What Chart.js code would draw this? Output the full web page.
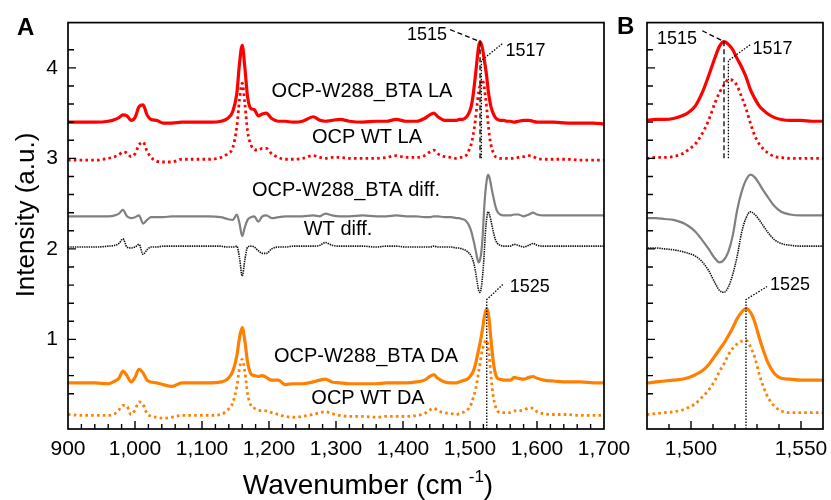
<!DOCTYPE html>
<html>
<head>
<meta charset="utf-8">
<script src="https://cdn.jsdelivr.net/npm/chart.js@4.4.1/dist/chart.umd.min.js"></script>
<style>
  html, body { margin: 0; padding: 0; background: #fff; }
  #wrap { position: relative; width: 831px; height: 500px; }
  #wrap canvas { position: absolute; left: 0; top: 0; }
</style>
</head>
<body>
<div id="wrap">
  <canvas id="chartA" width="831" height="500"></canvas>
  <canvas id="chartB" width="831" height="500"></canvas>
</div>
<script>
// Raman shift (cm-1), shared by every trace
const wavenumber = [
  900, 920, 940, 960, 970, 976, 982, 988, 994, 1000,
  1006, 1012, 1018, 1024, 1032, 1042, 1055, 1070, 1090, 1110,
  1128, 1138, 1146, 1152, 1156, 1160, 1164, 1168, 1173, 1178,
  1184, 1190, 1196, 1204, 1214, 1224, 1236, 1250, 1266, 1276,
  1284, 1294, 1306, 1320, 1340, 1360, 1375, 1390, 1405, 1420,
  1432, 1440, 1446, 1452, 1462, 1472,
  1480, 1484, 1488, 1492, 1496, 1499, 1502, 1505, 1508, 1511,
  1513, 1515, 1517, 1519, 1521, 1523, 1525, 1527, 1529, 1531,
  1533, 1535, 1538, 1541, 1545, 1550, 1555, 1560,
  1566, 1572, 1580, 1588, 1594, 1600, 1610, 1625, 1645, 1665,
  1685, 1700
];

const btaLA = [
  3.40, 3.40, 3.40, 3.41, 3.43, 3.45, 3.48, 3.47, 3.42, 3.45,
  3.57, 3.59, 3.48, 3.43, 3.42, 3.39, 3.39, 3.40, 3.40, 3.40,
  3.41, 3.44, 3.52, 3.72, 4.05, 4.25, 4.00, 3.68, 3.55, 3.54,
  3.47, 3.49, 3.50, 3.44, 3.41, 3.41, 3.40, 3.41, 3.46, 3.42,
  3.41, 3.42, 3.43, 3.41, 3.40, 3.41, 3.41, 3.43, 3.41, 3.41,
  3.44, 3.48, 3.50, 3.46, 3.42, 3.42,
  3.42, 3.43, 3.43, 3.44, 3.47, 3.51, 3.58, 3.72, 3.91, 4.12,
  4.24, 4.29, 4.26, 4.20, 4.10, 4.01, 3.90, 3.76, 3.66, 3.58,
  3.53, 3.49, 3.45, 3.43, 3.42, 3.42, 3.41, 3.41,
  3.40, 3.41, 3.42, 3.42, 3.41, 3.40, 3.40, 3.40, 3.39, 3.39,
  3.39, 3.38
];

const wtLA = [
  2.98, 2.98, 2.98, 3.00, 3.02, 3.04, 3.07, 3.06, 3.02, 3.05,
  3.15, 3.18, 3.08, 3.01, 2.97, 2.96, 2.96, 2.99, 2.99, 2.99,
  3.01, 3.05, 3.12, 3.35, 3.65, 3.83, 3.60, 3.30, 3.15, 3.10,
  3.09, 3.11, 3.11, 3.05, 3.01, 2.99, 2.99, 3.00, 3.03, 3.01,
  3.00, 3.01, 3.01, 3.00, 3.00, 3.00, 3.01, 3.03, 3.01, 3.01,
  3.03, 3.07, 3.09, 3.05, 3.02, 3.01,
  3.00, 3.01, 3.01, 3.02, 3.05, 3.10, 3.16, 3.27, 3.42, 3.62,
  3.73, 3.81, 3.87, 3.86, 3.80, 3.68, 3.55, 3.39, 3.25, 3.16,
  3.10, 3.06, 3.02, 3.01, 3.00, 3.00, 3.00, 3.00,
  3.00, 3.01, 3.02, 3.03, 3.02, 3.00, 2.99, 2.99, 2.99, 2.98,
  2.98, 2.98
];

const btaDiff = [
  2.36, 2.36, 2.36, 2.36, 2.37, 2.39, 2.43, 2.36, 2.34, 2.35,
  2.37, 2.28, 2.32, 2.35, 2.35, 2.35, 2.36, 2.36, 2.36, 2.36,
  2.35, 2.33, 2.32, 2.38, 2.28, 2.14, 2.24, 2.32, 2.35, 2.36,
  2.30, 2.36, 2.37, 2.34, 2.35, 2.36, 2.36, 2.36, 2.37, 2.36,
  2.39, 2.37, 2.36, 2.36, 2.37, 2.36, 2.36, 2.37, 2.36, 2.36,
  2.35, 2.35, 2.36, 2.36, 2.35, 2.35,
  2.34, 2.34, 2.33, 2.32, 2.29, 2.25, 2.19, 2.10, 2.00, 1.89,
  1.85, 1.88, 1.97, 2.15, 2.43, 2.63, 2.76, 2.82, 2.79, 2.72,
  2.64, 2.57, 2.47, 2.41, 2.38, 2.37, 2.37, 2.37,
  2.38, 2.38, 2.36, 2.38, 2.40, 2.38, 2.37, 2.37, 2.37, 2.37,
  2.37, 2.37
];

const wtDiff = [
  2.02, 2.02, 2.02, 2.03, 2.04, 2.06, 2.11, 2.02, 2.01, 2.02,
  2.05, 1.94, 1.99, 2.02, 2.02, 2.03, 2.03, 2.03, 2.03, 2.03,
  2.03, 2.02, 2.02, 2.03, 1.90, 1.70, 1.88, 2.02, 2.03, 2.02,
  1.98, 1.95, 1.95, 2.00, 2.02, 2.02, 2.03, 2.03, 2.03, 2.04,
  2.07, 2.04, 2.03, 2.03, 2.03, 2.02, 2.03, 2.03, 2.02, 2.02,
  2.02, 2.02, 2.03, 2.02, 2.02, 2.02,
  2.01, 2.01, 2.00, 1.99, 1.97, 1.95, 1.92, 1.86, 1.76, 1.62,
  1.54, 1.52, 1.58, 1.72, 1.92, 2.18, 2.34, 2.41, 2.38, 2.32,
  2.25, 2.18, 2.10, 2.06, 2.04, 2.03, 2.03, 2.03,
  2.05, 2.04, 2.02, 2.04, 2.06, 2.04, 2.03, 2.03, 2.03, 2.03,
  2.03, 2.03
];

const btaDA = [
  0.52, 0.52, 0.52, 0.51, 0.54, 0.57, 0.65, 0.60, 0.53, 0.58,
  0.67, 0.63, 0.55, 0.53, 0.52, 0.50, 0.48, 0.52, 0.52, 0.52,
  0.53, 0.56, 0.65, 0.82, 1.02, 1.13, 0.98, 0.75, 0.62, 0.60,
  0.59, 0.60, 0.58, 0.55, 0.55, 0.50, 0.51, 0.51, 0.53, 0.55,
  0.56, 0.53, 0.52, 0.51, 0.51, 0.51, 0.52, 0.52, 0.52, 0.53,
  0.55, 0.59, 0.61, 0.57, 0.53, 0.52,
  0.52, 0.53, 0.54, 0.55, 0.56, 0.58, 0.61, 0.65, 0.72, 0.82,
  0.89, 0.96, 1.04, 1.13, 1.23, 1.30, 1.34, 1.30, 1.19, 1.02,
  0.87, 0.74, 0.62, 0.57, 0.56, 0.55, 0.55, 0.55,
  0.58, 0.57, 0.56, 0.58, 0.59, 0.57, 0.55, 0.54, 0.53, 0.53,
  0.52, 0.52
];

const wtDA = [
  0.17, 0.16, 0.16, 0.16, 0.18, 0.22, 0.27, 0.26, 0.17, 0.22,
  0.31, 0.28, 0.18, 0.15, 0.14, 0.13, 0.14, 0.16, 0.16, 0.16,
  0.17, 0.22, 0.30, 0.48, 0.68, 0.78, 0.64, 0.40, 0.27, 0.24,
  0.22, 0.21, 0.21, 0.19, 0.17, 0.15, 0.14, 0.15, 0.17, 0.19,
  0.20, 0.18, 0.16, 0.15, 0.15, 0.14, 0.15, 0.15, 0.15, 0.16,
  0.18, 0.22, 0.24, 0.21, 0.19, 0.18,
  0.17, 0.18, 0.19, 0.20, 0.22, 0.25, 0.29, 0.36, 0.44, 0.55,
  0.65, 0.73, 0.83, 0.90, 0.95, 0.98, 0.99, 0.92, 0.80, 0.62,
  0.47, 0.36, 0.26, 0.21, 0.19, 0.19, 0.19, 0.19,
  0.21, 0.21, 0.22, 0.24, 0.24, 0.20, 0.18, 0.17, 0.17, 0.16,
  0.16, 0.16
];

const seriesNames = ['OCP-W288_BTA LA', 'OCP WT LA', 'OCP-W288_BTA diff.', 'WT diff.', 'OCP-W288_BTA DA', 'OCP WT DA'];
const xLabelsA = [900, 1000, 1100, 1200, 1300, 1400, 1500, 1600, 1700];
const xLabelsB = [1500, 1550];
const yLabels = [1, 2, 3, 4];
// marked band positions and where their guide lines start/stop (intensity)
const peakMarks = [1515, 1517, 1525];
const markTop = [4.29, 4.08, 1.44];
const markBottom = [3.0, 3.0, null];

const FONT = '"Liberation Sans", Arial, sans-serif';
Chart.defaults.font.family = FONT;
Chart.defaults.color = '#000';

const styles = [
  { borderColor: '#ff0000', borderWidth: 3.2 },
  { borderColor: '#ff0000', borderWidth: 2.8, borderDash: [2.6, 3.2] },
  { borderColor: '#808080', borderWidth: 2.2 },
  { borderColor: '#111111', borderWidth: 1.6, borderDash: [1.4, 0.9] },
  { borderColor: '#ff8000', borderWidth: 3.2 },
  { borderColor: '#ff8000', borderWidth: 2.8, borderDash: [2.6, 3.2] }
];
const seriesData = [btaLA, wtLA, btaDiff, wtDiff, btaDA, wtDA];

function makeDatasets() {
  return seriesData.map((vals, i) => Object.assign({
    label: seriesNames[i],
    data: wavenumber.map((w, j) => ({ x: w, y: vals[j] })),
    pointRadius: 0,
    fill: false,
    cubicInterpolationMode: 'monotone'
  }, styles[i]));
}

const deco = {
  id: 'deco',
  afterDraw(chart, args, o) {
    const ctx = chart.ctx, a = chart.chartArea;
    const xs = chart.scales.x, ys = chart.scales.y;
    ctx.save();
    ctx.strokeStyle = '#000';
    ctx.fillStyle = '#000';

    // inward ticks
    ctx.lineWidth = 1.4;
    ctx.beginPath();
    xs.ticks.forEach(t => {
      if (t.value <= xs.min || t.value >= xs.max) return;
      const px = xs.getPixelForValue(t.value);
      const len = o.xLabels.includes(t.value) ? 8 : 5;
      ctx.moveTo(px, a.bottom); ctx.lineTo(px, a.bottom - len);
    });
    ys.ticks.forEach(t => {
      const v = Math.round(t.value * 5) / 5;
      if (Math.abs(v - t.value) > 1e-6 || v <= ys.min || v >= ys.max) return;
      const py = ys.getPixelForValue(v);
      const len = yLabels.includes(v) ? 8 : 6;
      ctx.moveTo(a.left, py); ctx.lineTo(a.left + len, py);
    });
    ctx.stroke();

    // frame
    ctx.lineWidth = 1.7;
    ctx.strokeRect(a.left, a.top, a.right - a.left, a.bottom - a.top);

    // band guide lines
    peakMarks.forEach((wn, i) => {
      const m = o.marks[i];
      const px = xs.getPixelForValue(wn);
      const pTop = ys.getPixelForValue(markTop[i]);
      const pBot = markBottom[i] == null ? a.bottom : ys.getPixelForValue(markBottom[i]);
      ctx.lineWidth = 1.3;
      ctx.setLineDash(m.dash);
      ctx.beginPath();
      ctx.moveTo(px, pBot); ctx.lineTo(px, pTop); ctx.lineTo(px + m.dx, pTop + m.dy);
      ctx.stroke();
      ctx.setLineDash([]);
      ctx.font = '18px ' + FONT;
      ctx.textAlign = m.dx < 0 ? 'right' : 'left';
      ctx.textBaseline = 'middle';
      ctx.fillText(String(wn), px + m.dx + m.tx, pTop + m.dy + m.ty);
    });

    // free texts
    (o.texts || []).forEach(t => {
      ctx.font = t.font;
      ctx.textAlign = t.align || 'center';
      ctx.textBaseline = t.base || 'middle';
      if (t.rot) {
        ctx.save(); ctx.translate(t.x, t.y); ctx.rotate(t.rot);
        ctx.fillText(t.text, 0, 0); ctx.restore();
      } else {
        ctx.fillText(t.text, t.x, t.y);
      }
    });

    // x title with superscript
    if (o.xTitle) {
      const big = '28px ' + FONT, small = '17px ' + FONT;
      const p1 = 'Wavenumber (cm', p2 = '-1', p3 = ')';
      ctx.font = big; const w1 = ctx.measureText(p1).width, w3 = ctx.measureText(p3).width;
      ctx.font = small; const w2 = ctx.measureText(p2).width;
      const gap = 6;
      let x0 = o.xTitle.x - (w1 + gap + w2 + w3) / 2;
      const yb = o.xTitle.y;
      ctx.textAlign = 'left'; ctx.textBaseline = 'alphabetic';
      ctx.font = big; ctx.fillText(p1, x0, yb);
      ctx.font = small; ctx.fillText(p2, x0 + w1 + gap, yb - 12);
      ctx.font = big; ctx.fillText(p3, x0 + w1 + gap + w2, yb);
    }
    ctx.restore();
  }
};

function axisX(min, max, step, labels) {
  return {
    type: 'linear', min: min, max: max,
    afterFit(s) { s.height = 71; s.paddingLeft = 0; s.paddingRight = 0; },
    grid: { display: false, drawTicks: false },
    border: { display: false },
    ticks: {
      stepSize: step, autoSkip: false, maxRotation: 0, padding: 8,
      font: { size: 21 },
      callback: v => labels.includes(v) ? v.toLocaleString('en-US') : ''
    }
  };
}

function axisY(width, showLabels) {
  return {
    type: 'linear', min: 0.01, max: 4.5,
    afterFit(s) { s.width = width; },
    grid: { display: false, drawTicks: false },
    border: { display: false },
    ticks: {
      stepSize: 0.2, autoSkip: false, padding: 10,
      font: { size: 21 },
      callback: v => {
        const r = Math.round(v * 100) / 100;
        return showLabels && yLabels.includes(r) ? String(r) : '';
      }
    }
  };
}

const common = {
  responsive: false,
  animation: false,
  devicePixelRatio: 1,
  events: [],
  plugins: { legend: { display: false }, tooltip: { enabled: false } }
};

new Chart(document.getElementById('chartA'), {
  type: 'line',
  data: { datasets: makeDatasets() },
  plugins: [deco],
  options: Object.assign({}, common, {
    layout: { padding: { top: 16, left: 0, right: 227, bottom: 0 } },
    scales: { x: axisX(900, 1700, 20, xLabelsA), y: axisY(68, true) },
    plugins: Object.assign({}, common.plugins, {
      deco: {
        xLabels: xLabelsA,
        marks: [
          { dash: [5, 3], dx: -30, dy: -12, tx: -3, ty: 5 },
          { dash: [1.5, 1.5], dx: 21, dy: -17, tx: 3, ty: 7 },
          { dash: [1.5, 1.5], dx: 16, dy: -15, tx: 7, ty: 2 }
        ],
        texts: [
          { text: seriesNames[0], x: 362, y: 91, font: '20px ' + FONT },
          { text: seriesNames[1], x: 367, y: 137, font: '20px ' + FONT },
          { text: seriesNames[2], x: 346, y: 190, font: '20px ' + FONT },
          { text: seriesNames[3], x: 338, y: 229, font: '20px ' + FONT },
          { text: seriesNames[4], x: 366, y: 356, font: '20px ' + FONT },
          { text: seriesNames[5], x: 368, y: 398, font: '20px ' + FONT },
          { text: 'A', x: 17, y: 35, font: 'bold 24px ' + FONT, align: 'left', base: 'alphabetic' },
          { text: 'Intensity (a.u.)', x: 27, y: 215, font: '26px ' + FONT, rot: -Math.PI / 2 }
        ],
        xTitle: { x: 368, y: 494 }
      }
    })
  })
});

new Chart(document.getElementById('chartB'), {
  type: 'line',
  data: { datasets: makeDatasets() },
  plugins: [deco],
  options: Object.assign({}, common, {
    layout: { padding: { top: 16, left: 610, right: 8, bottom: 0 } },
    scales: { x: axisX(1480, 1560, 10, xLabelsB), y: axisY(37, false) },
    plugins: Object.assign({}, common.plugins, {
      deco: {
        xLabels: xLabelsB,
        marks: [
          { dash: [5, 3], dx: -22, dy: -11, tx: -5, ty: 8 },
          { dash: [1.5, 1.5], dx: 22, dy: -16, tx: 2, ty: 4 },
          { dash: [1.5, 1.5], dx: 21, dy: -13, tx: 3, ty: -2 }
        ],
        texts: [
          { text: 'B', x: 617, y: 34, font: 'bold 24px ' + FONT, align: 'left', base: 'alphabetic' }
        ]
      }
    })
  })
});
</script>
</body>
</html>
